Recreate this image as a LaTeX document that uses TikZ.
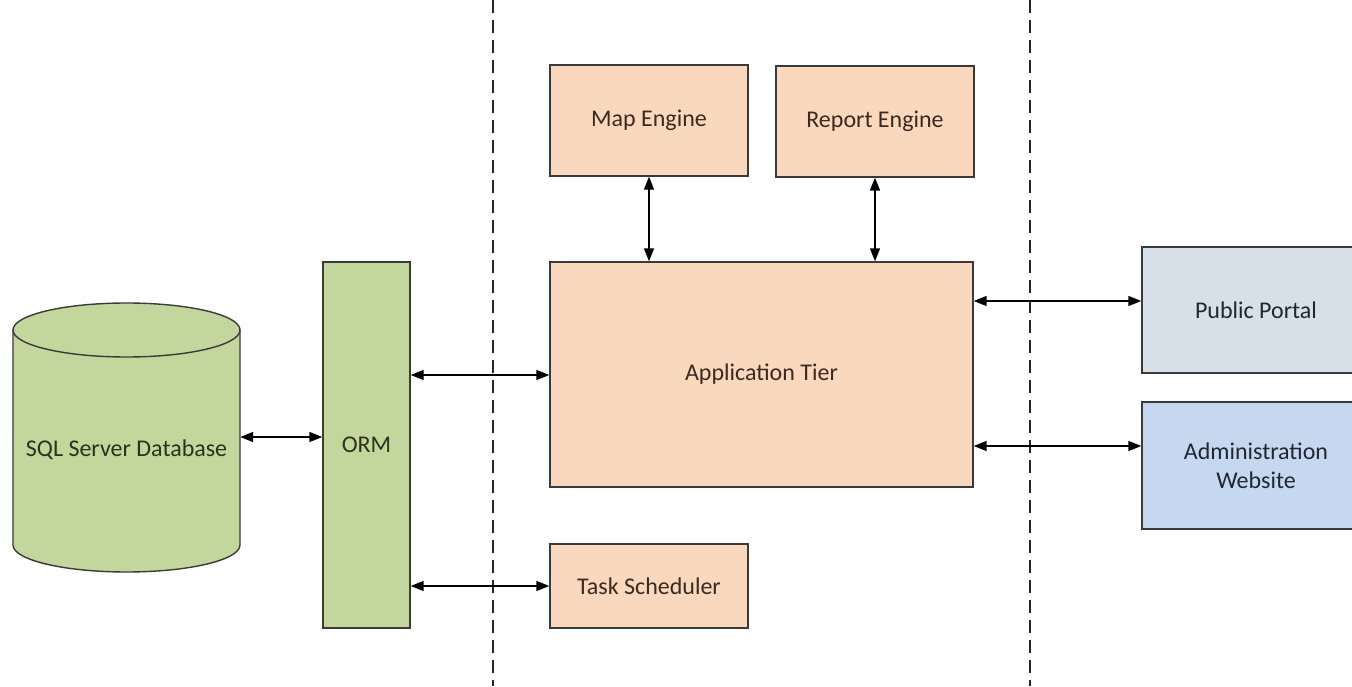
\documentclass[tikz,border=0pt]{standalone}
\usepackage{fontspec}
\setmainfont{Carlito}
\usetikzlibrary{arrows.meta}

\definecolor{peach}{HTML}{FAD8BD}
\definecolor{sage}{HTML}{C3D69B}
\definecolor{mist}{HTML}{D7DFE9}
\definecolor{skyblue}{HTML}{C6D8EF}
\definecolor{edge}{HTML}{3A3A3A}
\definecolor{inkbrown}{HTML}{3A2A20}
\definecolor{inkgreen}{HTML}{2A3320}
\definecolor{inkblue}{HTML}{1F2733}

\tikzset{
  box/.style={draw=edge, line width=1.4pt, rectangle, inner sep=0pt,
              font=\fontsize{24}{29}\selectfont, align=center},
  tier/.style={box, fill=peach, text=inkbrown},
  data/.style={box, fill=sage, text=inkgreen},
  client/.style={box, text=inkblue},
  link/.style={line width=1.6pt, draw=black,
               {Triangle[length=13pt,width=10pt]}-{Triangle[length=13pt,width=10pt]}},
  divider/.style={line width=1.6pt, draw=black!85, dash pattern=on 13pt off 7pt}
}

\begin{document}
\begin{tikzpicture}[x=1pt,y=1pt]
  \useasboundingbox (0,0) rectangle (1352,686);
  \clip (0,0) rectangle (1352,686);

  % tier dividers
  \draw[divider] (493,686) -- (493,0);
  \draw[divider] (1030,686) -- (1030,0);

  % database cylinder
  \node[minimum width=227pt, minimum height=270pt, inner sep=0pt] (db) at (126.5,249) {};
  \filldraw[fill=sage, draw=edge, line width=1.4pt]
    (13,356) -- (13,141) arc[start angle=180, end angle=360, x radius=113.5pt, y radius=27pt]
    -- (240,356) arc[start angle=0, end angle=180, x radius=113.5pt, y radius=27pt] -- cycle;
  \draw[draw=edge, line width=1.4pt]
    (13,356) arc[start angle=180, end angle=360, x radius=113.5pt, y radius=27pt];
  \node[font=\fontsize{24}{29}\selectfont, text=inkgreen] (dblabel)
    at ([yshift=-13pt]db.center) {SQL Server Database};

  % ORM layer
  \node[data, minimum width=87pt, minimum height=366pt] (orm) at (366.5,241) {ORM};

  % application tier and its engines
  \node[tier, minimum width=198pt, minimum height=111pt] (map) at (649,565.5) {Map Engine};
  \node[tier, minimum width=198pt, minimum height=111pt] (report) at (875,564.5) {Report Engine};
  \node[tier, minimum width=423pt, minimum height=225pt] (app) at (761.5,311.5) {Application Tier};
  \node[tier, minimum width=198pt, minimum height=84pt] (task) at (649,100) {Task Scheduler};

  % client front ends
  \node[client, fill=mist, minimum width=228pt, minimum height=126pt] (portal) at (1256,376) {Public Portal};
  \node[client, fill=skyblue, minimum width=228pt, minimum height=127pt] (admin) at (1256,220.5) {Administration\\Website};

  % connectors
  \draw[link] (db.east) -- (orm.west |- db.east);
  \draw[link] ([yshift=-0.5pt]orm.east |- app.west) -- ([yshift=-0.5pt]app.west);
  \draw[link] (orm.east |- task.west) -- (task.west);
  \draw[link] (map.south) -- (map.south |- app.north);
  \draw[link] (report.south) -- (report.south |- app.north);
  \draw[link] ([yshift=9pt]app.east |- portal.west) -- ([yshift=9pt]portal.west);
  \draw[link] ([yshift=19.5pt]app.east |- admin.west) -- ([yshift=19.5pt]admin.west);
\end{tikzpicture}
\end{document}
